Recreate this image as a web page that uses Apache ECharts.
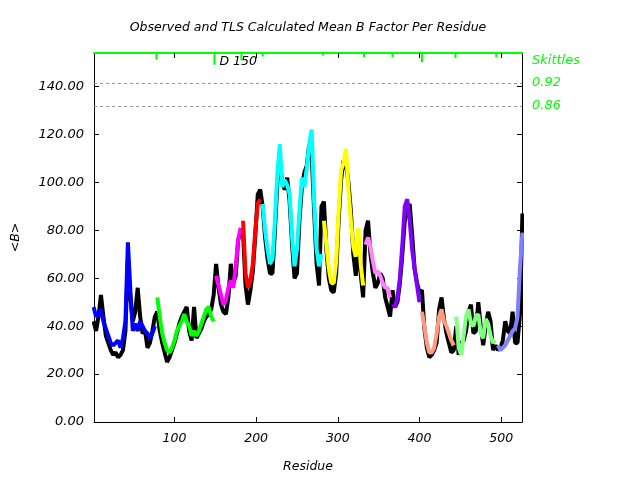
<!DOCTYPE html>
<html>
<head>
<meta charset="utf-8">
<title>Observed and TLS Calculated Mean B Factor Per Residue</title>
<script src="https://cdn.jsdelivr.net/npm/echarts@6.0.0/dist/echarts.min.js"></script>
<style>
  html, body { margin: 0; padding: 0; background: #fff; }
  #chart { width: 640px; height: 480px; }
</style>
</head>
<body>
<div id="chart"></div>
<script>
const residueStart = 1
const residueStep = 3

// observed mean B per residue (black line)
const observed = [
  42, 38, 44, 53, 44, 36, 33, 30, 28, 29,
  27, 28, 30, 38, 68, 52, 42, 46, 56, 44,
  37, 38, 31, 33, 38, 44, 46, 38, 33, 29,
  25, 27, 30, 33, 37, 41, 44, 46, 48, 38,
  34, 48, 35, 37, 39, 42, 44, 45, 47, 53,
  66, 56, 49, 46, 45, 52, 66, 58, 61, 76,
  79, 79, 57, 49, 55, 63, 78, 95, 97, 90,
  77, 68, 62, 62, 80, 100, 108, 100, 97, 102,
  92, 74, 60, 62, 84, 98, 104, 107, 116, 112,
  88, 66, 57, 90, 92, 72, 60, 55, 54, 62,
  84, 101, 109, 108, 100, 88, 70, 61, 73, 62,
  52, 80, 84, 70, 62, 56, 58, 62, 60, 52,
  48, 44, 55, 48, 50, 58, 70, 84, 88, 91,
  78, 64, 58, 54, 55, 39, 31, 27, 28, 30,
  33, 47, 52, 43, 37, 33, 29, 30, 40, 28,
  33, 34, 38, 46, 49, 37, 38, 50, 40, 32,
  40, 46, 42, 30, 32, 30, 31, 34, 42, 38,
  37, 46, 33, 33, 45, 87
]

// TLS calculated mean B per residue (coloured by TLS group)
const calculated = [
  48, 44, 45, 47, 42, 39, 36, 33, 32, 33,
  34, 31, 35, 42, 75, 55, 38, 41, 38, 42,
  40, 38, 37, 35, 37, 40, 52, 44, 37, 33,
  30, 29, 31, 34, 38, 40, 42, 45, 42, 40,
  36, 38, 36, 38, 41, 44, 47, 48, 44, 42,
  61, 57, 53, 49, 51, 56, 59, 56, 65, 76,
  81, 84, 62, 56, 59, 66, 80, 91, 93, 91,
  80, 72, 66, 68, 84, 104, 116, 98, 101, 99,
  95, 77, 65, 72, 88, 102, 98, 106, 116, 122,
  92, 72, 65, 70, 84, 74, 64, 58, 58, 67,
  88, 105, 108, 114, 97, 84, 73, 69, 81, 66,
  57, 74, 77, 73, 67, 62, 63, 61, 58, 56,
  56, 52, 49, 48, 52, 60, 74, 90, 93, 84,
  72, 64, 57, 50, 46, 40, 33, 29, 29, 31,
  37, 44, 47, 42, 40, 37, 34, 32, 44, 31,
  28, 36, 44, 47, 41, 40, 44, 45, 37, 35,
  43, 41, 36, 33, 34, 32, 30, 31, 32, 34,
  36, 38, 39, 44, 64, 79
]

// TLS groups: first residue of each group and its colour
const groupStarts = [1, 78, 150, 182, 208, 282, 332, 367, 403, 444, 494]
const groupColors = ['#0000ff', '#00ff00', '#ff00ff', '#ff0000', '#00ffff', '#ffff00',
  '#ff80ff', '#8000ff', '#ff9980', '#80ff80', '#8080ff']

// skittles ticks hanging from the top edge
const skittleResidues = [78, 149, 182, 208, 282, 332, 367, 403, 444, 494]
const skittleDepths = [2.8, 4.9, 3.0, 1.4, 1.1, 1.8, 1.8, 3.8, 2.1, 1.8]
const skittleLabels = ['', 'D 150', '', '', '', '', '', '', '', '']

const xTicks = [100, 200, 300, 400, 500]
const yTicks = [0, 20, 40, 60, 80, 100, 120, 140]
const thresholdValues = [141.5, 131.9]
const thresholdLabels = ['0.92', '0.86']

const xMin = 1.5
const xMax = 525.5
const yMax = 154

const fontFamily = 'DejaVu Sans'
const green = '#00ff00'

const residues = observed.map((_, i) => residueStart + i * residueStep)

const groupSeries = groupStarts.map((start, g) => {
  const end = g + 1 < groupStarts.length ? groupStarts[g + 1] : Infinity
  const data = []
  residues.forEach((r, i) => {
    if (r >= start && r < end) data.push([r, calculated[i]])
  })
  return {
    type: 'line',
    data,
    symbol: 'none',
    z: 3,
    lineStyle: { color: groupColors[g], width: 4 },
  }
})

const chart = echarts.init(document.getElementById('chart'))

chart.setOption({
  animation: false,
  backgroundColor: '#fff',
  textStyle: { fontFamily },
  title: {
    text: 'Observed and TLS Calculated Mean B Factor Per Residue',
    left: 303,
    top: 16,
    textAlign: 'center',
    textStyle: { fontSize: 12.5, fontWeight: 'normal', fontStyle: 'italic', color: '#000', fontFamily },
  },
  grid: { left: 94, right: 118, top: 53, bottom: 58 },
  xAxis: [{
    type: 'value',
    min: xMin,
    max: xMax,
    position: 'bottom',
    name: 'Residue',
    nameLocation: 'middle',
    nameGap: 38,
    nameTextStyle: { fontSize: 12.5, fontStyle: 'italic', color: '#000', fontFamily },
    axisLine: { onZero: false, lineStyle: { color: '#000', width: 1 } },
    axisTick: { inside: true, length: 5, customValues: xTicks, lineStyle: { color: '#000' } },
    axisLabel: { customValues: xTicks, margin: 10, fontSize: 12.5, fontStyle: 'italic', color: '#000' },
    splitLine: { show: false },
  }, {
    type: 'value',
    min: xMin,
    max: xMax,
    position: 'top',
    axisLine: { onZero: false, lineStyle: { color: green, width: 2 } },
    axisTick: { inside: true, length: 5, customValues: xTicks, lineStyle: { color: '#000' } },
    axisLabel: { show: false },
    splitLine: { show: false },
  }],
  yAxis: [{
    type: 'value',
    min: 0,
    max: yMax,
    position: 'left',
    name: '<B>',
    nameLocation: 'middle',
    nameGap: 72,
    nameTextStyle: { fontSize: 12.5, fontStyle: 'italic', color: '#000', fontFamily },
    axisLine: { show: true, onZero: false, lineStyle: { color: '#000', width: 1 } },
    axisTick: { show: true, inside: true, length: 5, customValues: yTicks, lineStyle: { color: '#000' } },
    axisLabel: {
      customValues: yTicks, margin: 10, fontSize: 13, fontStyle: 'italic', color: '#000',
      formatter: v => v.toFixed(2),
    },
    splitLine: { show: false },
  }, {
    type: 'value',
    min: 0,
    max: yMax,
    position: 'right',
    axisLine: { show: true, onZero: false, lineStyle: { color: '#000', width: 1 } },
    axisTick: { show: true, inside: true, length: 5, customValues: yTicks, lineStyle: { color: '#000' } },
    axisLabel: { show: false },
    splitLine: { show: false },
  }],
  graphic: [{
    type: 'text',
    left: 532,
    top: 54,
    style: { text: 'Skittles', fill: green, fontSize: 13, fontStyle: 'italic', fontFamily },
  }],
  series: [
    {
      type: 'line',
      data: residues.map((r, i) => [r, observed[i]]),
      symbol: 'none',
      z: 2,
      lineStyle: { color: '#000', width: 4 },
      markLine: {
        silent: true,
        symbol: ['none', 'none'],
        lineStyle: { color: '#999', type: [3, 3], width: 1 },
        label: {
          position: 'end', distance: 10, color: green, fontSize: 13,
          fontStyle: 'italic', fontFamily, formatter: p => p.name,
        },
        data: thresholdValues.map((v, i) => ({ yAxis: v, name: thresholdLabels[i] })),
      },
    },
    ...groupSeries,
    {
      type: 'custom',
      z: 5,
      data: skittleResidues.map((r, i) => [r, skittleDepths[i]]),
      renderItem: (params, api) => {
        const top = api.coord([api.value(0), yMax])
        const bottom = api.coord([api.value(0), yMax - api.value(1)])
        const children = [{
          type: 'line',
          shape: { x1: top[0], y1: top[1], x2: bottom[0], y2: bottom[1] },
          style: { stroke: green, lineWidth: 2 },
        }]
        const label = skittleLabels[params.dataIndex]
        if (label) {
          children.push({
            type: 'text',
            x: top[0] + 5,
            y: top[1] + 2,
            style: { text: label, fill: '#000', fontSize: 12.5, fontStyle: 'italic', fontFamily, verticalAlign: 'top' },
          })
        }
        return { type: 'group', children }
      },
    },
  ],
})
</script>
</body>
</html>
